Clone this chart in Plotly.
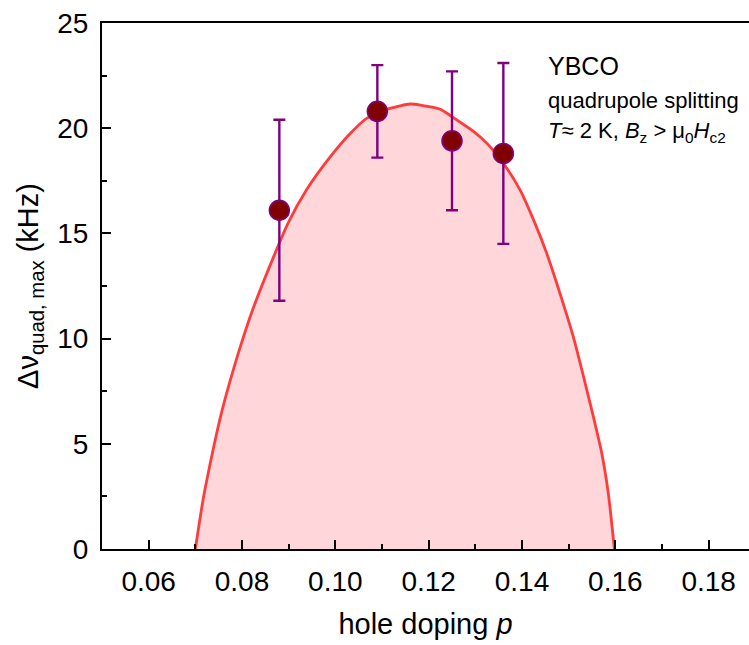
import plotly.graph_objects as go

# Measured data points (hole doping p, quadrupole splitting in kHz)
p_data = [0.088, 0.109, 0.125, 0.136]
dv_data = [16.1, 20.8, 19.4, 18.8]
dv_err = [4.3, 2.2, 3.3, 4.3]

# Dome curve
p_curve = [0.0700, 0.0717, 0.0735, 0.0753, 0.0774, 0.0799, 0.0825, 0.0867, 0.0899,
           0.0939, 0.0989, 0.1032, 0.1067, 0.1117, 0.1160, 0.1182, 0.1225, 0.1253,
           0.1296, 0.1325, 0.1360, 0.1396, 0.1425, 0.1453, 0.1482, 0.1510, 0.1532,
           0.1553, 0.1571, 0.1585, 0.1598]
dv_curve = [0.0, 2.4, 4.4, 6.2, 7.95, 9.8, 11.5, 13.85, 15.5,
            17.1, 18.64, 19.75, 20.47, 20.94, 21.15, 21.1, 20.9, 20.5,
            19.85, 19.28, 18.33, 17.06, 15.63, 14.05, 12.1, 10.08, 8.18,
            6.28, 4.54, 2.63, 0.0]

x_ticks = [0.06, 0.08, 0.10, 0.12, 0.14, 0.16, 0.18]
x_ticklabels = ["0.06", "0.08", "0.10", "0.12", "0.14", "0.16", "0.18"]
y_ticks = [0, 5, 10, 15, 20, 25]

FONT = "Liberation Sans, Arial, sans-serif"

fig = go.Figure()
fig.add_trace(go.Scatter(
    x=p_curve, y=dv_curve, mode="lines",
    line=dict(color="#ff3b3b", width=2.8, shape="spline", smoothing=0.6),
    fill="tozeroy", fillcolor="rgba(255,214,217,1)", showlegend=False, hoverinfo="skip"))
fig.add_trace(go.Scatter(
    x=p_data, y=dv_data, mode="markers",
    marker=dict(size=20, color="#800000", line=dict(color="#800080", width=1.5)),
    error_y=dict(type="data", array=dv_err, visible=True, color="#800080", thickness=2.4, width=6),
    showlegend=False, cliponaxis=False))

ann_x = 0.1452
fig.add_annotation(x=ann_x, y=22.94, xref="x", yref="y", text="YBCO", showarrow=False,
                   xanchor="left", yanchor="middle", font=dict(size=25, color="black", family=FONT))
fig.add_annotation(x=ann_x, y=21.33, xref="x", yref="y", text="quadrupole splitting", showarrow=False,
                   xanchor="left", yanchor="middle", font=dict(size=22, color="black", family=FONT))
fig.add_annotation(x=ann_x, y=19.83, xref="x", yref="y",
                   text="<i>T</i>\u2248 2 K, <i>B</i><sub>z</sub> > \u03bc<sub>0</sub><i>H</i><sub>c2</sub>",
                   showarrow=False, xanchor="left", yanchor="middle",
                   font=dict(size=22, color="black", family=FONT))

fig.update_layout(
    width=749, height=645,
    margin=dict(l=102, r=0, t=23, b=96),
    plot_bgcolor="white", paper_bgcolor="white",
    font=dict(family=FONT, color="black"),
)
fig.update_xaxes(
    range=[0.05, 0.18864], tickvals=x_ticks, ticktext=x_ticklabels,
    ticks="inside", ticklen=9, tickwidth=2, tickcolor="black",
    minor=dict(ticks="inside", ticklen=5, tickwidth=2, tickcolor="black", dtick=0.01, tick0=0.05),
    showline=True, linewidth=2, linecolor="black", mirror=True,
    showgrid=False, zeroline=False,
    tickfont=dict(size=28, family=FONT), ticklabelstandoff=6,
    title=dict(text="hole doping <i>p</i>", font=dict(size=29, family=FONT), standoff=18),
)
fig.update_yaxes(
    range=[0, 25], tickvals=y_ticks,
    ticks="inside", ticklen=9, tickwidth=2, tickcolor="black",
    minor=dict(ticks="inside", ticklen=5, tickwidth=2, tickcolor="black", dtick=2.5, tick0=0),
    showline=True, linewidth=2, linecolor="black", mirror=False,
    showgrid=False, zeroline=False,
    tickfont=dict(size=28, family=FONT), ticklabelstandoff=6,
    title=dict(text="\u0394\u03bd<sub>quad, max</sub> (kHz)", font=dict(size=29, family=FONT), standoff=10),
)

fig.write_html("out.html", config={"displayModeBar": False},
               post_script="document.body.style.margin='0';document.body.style.overflow='hidden';")
